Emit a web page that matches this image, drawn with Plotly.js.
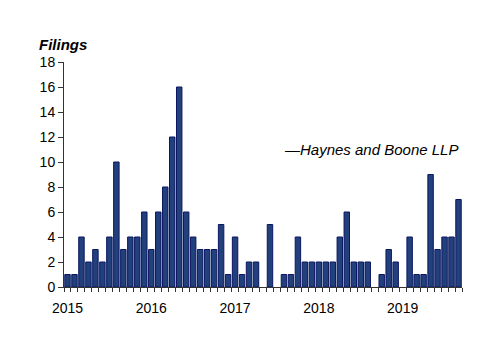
<!DOCTYPE html>
<html>
<head>
<meta charset="utf-8">
<script src="https://cdn.plot.ly/plotly-3.0.1.min.js"></script>
<style>html,body{margin:0;padding:0;background:#fff;}#chart{width:500px;height:353px;}</style>
</head>
<body>
<div id="chart"></div>
<script>
// Monthly filings, Jan 2015 .. Sep 2019
const years = [2015, 2016, 2017, 2018, 2019];
const filings2015 = [1, 1, 4, 2, 3, 2, 4, 10, 3, 4, 4, 6];
const filings2016 = [3, 6, 8, 12, 16, 6, 4, 3, 3, 3, 5, 1];
const filings2017 = [4, 1, 2, 2, 0, 5, 0, 1, 1, 4, 2, 2];
const filings2018 = [2, 2, 2, 4, 6, 2, 2, 2, 0, 1, 3, 2];
const filings2019 = [0, 4, 1, 1, 9, 3, 4, 4, 7];
const yTicks = [0, 2, 4, 6, 8, 10, 12, 14, 16, 18];
const seriesName = 'Haynes and Boone LLP';

const values = [].concat(filings2015, filings2016, filings2017, filings2018, filings2019);
const labels = [];
const idx = [];
years.forEach(function (yr, yi) {
  for (let m = 1; m <= 12; m++) {
    const i = yi * 12 + (m - 1);
    if (i < values.length) { labels.push(yr + '-' + String(m).padStart(2, '0')); idx.push(i); }
  }
});
const yearPos = years.map(function (y, i) { return i * 12; });
const yearText = years.map(String);

const font = 'Liberation Sans, Arial, Helvetica, sans-serif';
const trace = {
  type: 'bar', x: idx, y: values, text: labels, hoverinfo: 'text+y', textposition: 'none',
  marker: {
    color: '#21407c',
    line: { color: '#0b1660', width: values.map(function (v) { return v > 0 ? 1 : 0; }) }
  },
  name: seriesName, showlegend: false
};
const layout = {
  width: 500, height: 353,
  margin: { l: 64, r: 38, t: 62, b: 66 },
  paper_bgcolor: '#fff', plot_bgcolor: '#fff',
  bargap: 0.22,
  font: { family: font, size: 14, color: '#000' },
  xaxis: {
    range: [-0.5, 56.5], tickmode: 'array', tickvals: yearPos, ticktext: yearText,
    ticks: '', showline: true, linecolor: '#333', linewidth: 1, showgrid: false, zeroline: false,
    minor: { tick0: -0.5, dtick: 1, ticks: 'outside', ticklen: 4, tickwidth: 1, tickcolor: '#333', showgrid: false },
    ticklabelstandoff: 8,
    tickfont: { size: 14 }, fixedrange: true
  },
  yaxis: {
    range: [0, 18], tickmode: 'array', tickvals: yTicks,
    ticks: 'outside', ticklen: 5, tickwidth: 1, tickcolor: '#333',
    showline: true, linecolor: '#333', linewidth: 1, showgrid: false, zeroline: false,
    tickfont: { size: 14 }, fixedrange: true
  },
  annotations: [
    { xref: 'paper', yref: 'paper', x: -0.068, y: 1.03, xanchor: 'left', yanchor: 'bottom',
      text: '<b><i>Filings</i></b>', showarrow: false, font: { size: 15, family: font } },
    { xref: 'paper', yref: 'paper', x: 0.995, y: 0.61, xanchor: 'right', yanchor: 'middle',
      text: '<i>\u2014' + seriesName + '</i>', showarrow: false, font: { size: 15, family: font } }
  ]
};
Plotly.newPlot('chart', [trace], layout, { displayModeBar: false, staticPlot: true });
</script>
</body>
</html>
